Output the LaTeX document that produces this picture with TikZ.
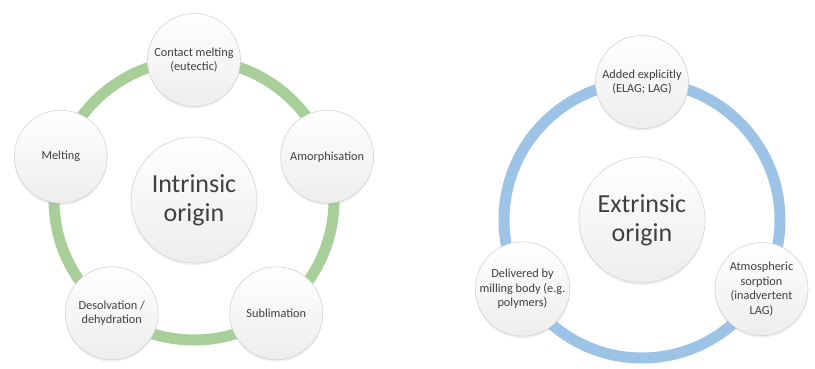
\documentclass[tikz,border=0pt]{standalone}
\usepackage{fontspec}
\setmainfont{Carlito}
\usepackage{tikz}
\usetikzlibrary{calc,shadows}
\definecolor{ringgreen}{HTML}{A8CF9A}
\definecolor{ringblue}{HTML}{9DC3E6}
\definecolor{bubtext}{HTML}{404040}
\definecolor{bubedge}{HTML}{D4D4D4}
\tikzset{
  bubble/.style={circle,draw=bubedge,line width=0.6pt,top color=white,bottom color=black!7,
    text=bubtext,align=center,inner sep=0pt,
    drop shadow={opacity=0.12,shadow xshift=0pt,shadow yshift=-2pt}},
  sat/.style={bubble,minimum size=93,font=\fontsize{12.3}{14.5}\selectfont},
  hub/.style={bubble,minimum size=126,font=\fontsize{26}{29}\selectfont},
}

\begin{document}
\begin{tikzpicture}[x=1pt,y=1pt]
  \useasboundingbox (0,0) rectangle (815,368);
  % intrinsic origin
  \node[hub] (intr) at (194,168) {Intrinsic\\origin};
  \draw[ringgreen,line width=11] (intr.center) circle[radius=140];
  \foreach \a/\t/\n in {90/{Contact melting\\(eutectic)}/cmelt, 162/Melting/melt,
      234/{Desolvation /\\dehydration}/desolv, 306/Sublimation/subl, 18/Amorphisation/amorph} {
    \node[sat] (\n) at ($(intr.center)+(\a:140)$) {\t};
  }
  % extrinsic origin
  \node[hub] (extr) at (642,148) {Extrinsic\\origin};
  \draw[ringblue,line width=11] (extr.center) circle[radius=138];
  \foreach \a/\t/\n in {90/{Added explicitly\\(ELAG; LAG)}/added,
      210/{Delivered by\\milling body (e.g.\\polymers)}/deliv,
      330/{Atmospheric\\sorption\\(inadvertent\\LAG)}/atmos} {
    \node[sat] (\n) at ($(extr.center)+(\a:138)$) {\t};
  }
\end{tikzpicture}
\end{document}
